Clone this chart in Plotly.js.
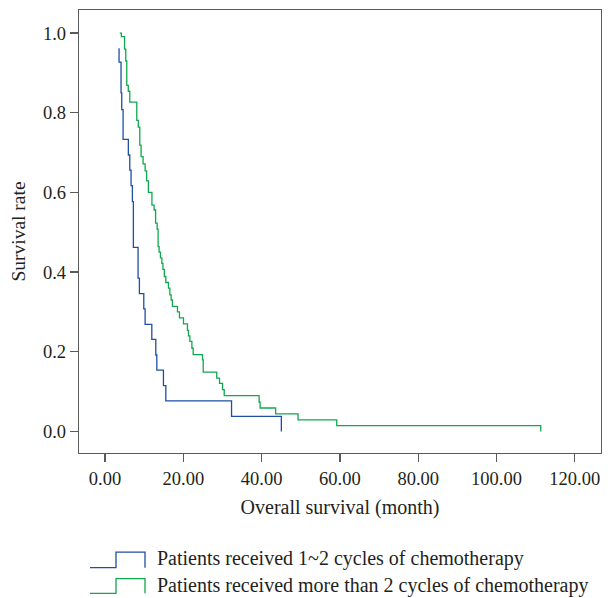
<!DOCTYPE html>
<html>
<head>
<meta charset="utf-8">
<script src="https://cdn.plot.ly/plotly-3.0.1.min.js"></script>
<style>html,body{margin:0;padding:0;background:#fff;}#chart{width:613px;height:598px;}</style>
</head>
<body>
<div id="chart"></div>
<script>
// Kaplan-Meier step points (time in months, survival proportion)
var blueTime = [3.58, 3.58, 4.09, 4.27, 4.61, 5.96, 6.32, 6.65, 6.99, 7.24, 8.44, 8.78, 9.90, 10.24, 11.95, 12.97, 13.23, 14.92, 15.53, 32.32, 45.04];
var blueSurv = [0.962, 0.927, 0.850, 0.808, 0.733, 0.694, 0.656, 0.617, 0.577, 0.462, 0.385, 0.346, 0.308, 0.269, 0.231, 0.192, 0.154, 0.115, 0.077, 0.038, 0.0];

var greenTime = [3.76, 4.17, 4.99, 5.30, 5.55, 5.94, 6.32, 8.11, 8.50, 8.88, 9.21, 9.72, 10.24, 10.62, 11.08, 11.98, 12.54, 12.92, 13.31, 13.56, 13.82, 14.15, 14.51, 14.79, 15.15, 15.53, 16.20, 16.56, 16.89, 17.22, 18.50, 19.01, 20.04, 21.06, 21.32, 21.67, 22.19, 22.52, 24.90, 25.08, 28.53, 29.25, 30.02, 30.45, 39.36, 39.61, 43.58, 49.31, 59.19, 111.31];
var greenSurv = [1.0, 0.991, 0.960, 0.930, 0.869, 0.854, 0.827, 0.781, 0.764, 0.719, 0.690, 0.672, 0.654, 0.629, 0.600, 0.568, 0.556, 0.523, 0.508, 0.464, 0.450, 0.436, 0.422, 0.407, 0.389, 0.374, 0.360, 0.343, 0.330, 0.314, 0.300, 0.285, 0.270, 0.254, 0.240, 0.226, 0.209, 0.193, 0.180, 0.149, 0.134, 0.121, 0.105, 0.090, 0.074, 0.059, 0.044, 0.029, 0.0145, 0.0];

var xTicks = [0, 20, 40, 60, 80, 100, 120];
var xTickLabels = ["0.00", "20.00", "40.00", "60.00", "80.00", "100.00", "120.00"];
var yTicks = [0, 0.2, 0.4, 0.6, 0.8, 1.0];
var yTickLabels = ["0.0", "0.2", "0.4", "0.6", "0.8", "1.0"];

var seriesNames = ["Patients received 1~2 cycles of chemotherapy", "Patients received more than 2 cycles of chemotherapy"];
var seriesColors = ["#1d4fa3", "#10a84e"];

var W = 613, H = 598, L = 79, R = 601, T = 10, B = 453.5;
function px(x){ return (x - L) / (R - L); }
function py(y){ return (B - y) / (B - T); }

var FONT = "Liberation Serif, Times New Roman, serif";
var TXT = "#231f20";
var AX = "#5a5a5a";

var traces = [
  {x: blueTime, y: blueSurv, mode: "lines", line: {shape: "hv", color: seriesColors[0], width: 1.3}, name: seriesNames[0], hoverinfo: "skip"},
  {x: greenTime, y: greenSurv, mode: "lines", line: {shape: "hv", color: seriesColors[1], width: 1.3}, name: seriesNames[1], hoverinfo: "skip"}
];

// manual legend with step-shaped symbols
function stepPath(yLow, yHigh){
  return "M " + px(90) + " " + py(yLow) + " L " + px(116) + " " + py(yLow) +
         " L " + px(116) + " " + py(yHigh) + " L " + px(145) + " " + py(yHigh) +
         " L " + px(145) + " " + py(yLow);
}
var shapes = [
  {type: "path", xref: "paper", yref: "paper", path: stepPath(568.3, 552.7), line: {color: seriesColors[0], width: 1.3}},
  {type: "path", xref: "paper", yref: "paper", path: stepPath(594, 579.3), line: {color: seriesColors[1], width: 1.3}}
];
var annotations = [
  {xref: "paper", yref: "paper", x: px(155), y: py(559.5), xanchor: "left", yanchor: "middle", showarrow: false, text: seriesNames[0], font: {family: FONT, size: 20, color: TXT}},
  {xref: "paper", yref: "paper", x: px(155), y: py(586.5), xanchor: "left", yanchor: "middle", showarrow: false, text: seriesNames[1], font: {family: FONT, size: 20, color: TXT}}
];

var layout = {
  width: W, height: H,
  margin: {l: L, r: W - R, t: T, b: H - B},
  paper_bgcolor: "#fff", plot_bgcolor: "#fff",
  showlegend: false,
  font: {family: FONT, color: TXT, size: 18},
  xaxis: {
    range: [-6.65, 126.7], tickvals: xTicks, ticktext: xTickLabels,
    showgrid: false, zeroline: false, showline: true, mirror: true, linecolor: AX, linewidth: 1.3,
    ticks: "outside", ticklen: 8, tickcolor: AX, tickwidth: 1.3,
    tickfont: {family: FONT, size: 18.5, color: TXT},
    title: {text: "Overall survival (month)", font: {family: FONT, size: 20, color: TXT}, standoff: 12}
  },
  yaxis: {
    range: [-0.054, 1.058], tickvals: yTicks, ticktext: yTickLabels,
    showgrid: false, zeroline: false, showline: true, mirror: true, linecolor: AX, linewidth: 1.3,
    ticks: "outside", ticklen: 8, tickcolor: AX, tickwidth: 1.3,
    tickfont: {family: FONT, size: 18.5, color: TXT},
    title: {text: "Survival rate", font: {family: FONT, size: 19.5, color: TXT}, standoff: 12}
  },
  shapes: shapes,
  annotations: annotations
};

Plotly.newPlot("chart", traces, layout, {displayModeBar: false, staticPlot: true});
</script>
</body>
</html>
